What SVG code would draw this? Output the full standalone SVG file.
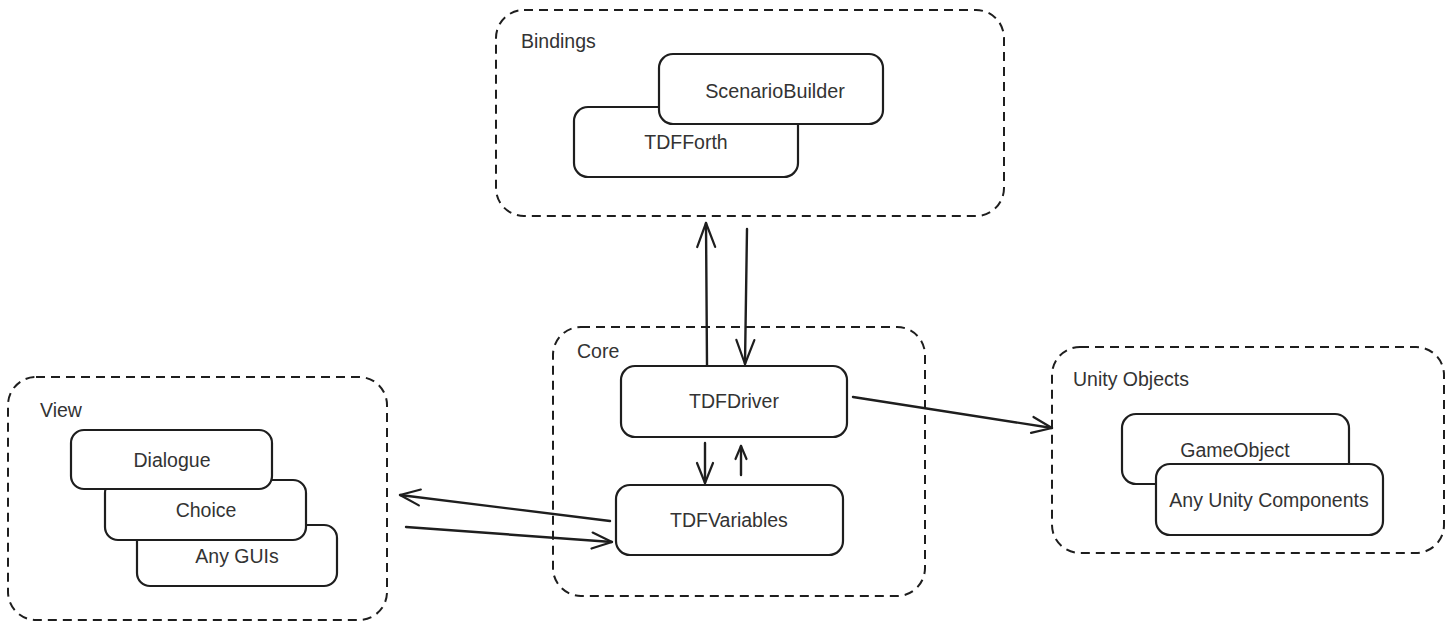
<svg xmlns="http://www.w3.org/2000/svg" width="1454" height="630" viewBox="0 0 1454 630">
<defs>
<style>
.container{fill:none;stroke:#1e1e1e;stroke-width:2;stroke-dasharray:9 6;}
.node rect{fill:#ffffff;stroke:#1e1e1e;stroke-width:2.2;}
text{font-family:"Liberation Sans",Arial,sans-serif;font-size:19.5px;fill:#333333;}
.label{text-anchor:start;}
.nlabel{text-anchor:middle;}
.conn{fill:none;stroke:#1e1e1e;stroke-width:2.4;stroke-linecap:round;}
</style>
<marker id="arrow" markerUnits="userSpaceOnUse" viewBox="-27 -12 30 24" markerWidth="30" markerHeight="24" refX="0" refY="0" orient="auto" overflow="visible">
<path d="M-24,-9 L0,0 L-24,9" fill="none" stroke="#1e1e1e" stroke-width="2.2" stroke-linecap="round" stroke-linejoin="round"/>
</marker>
<marker id="arrowMid" markerUnits="userSpaceOnUse" viewBox="-22 -10 24 20" markerWidth="24" markerHeight="20" refX="0" refY="0" orient="auto" overflow="visible">
<path d="M-20,-8 L0,0 L-20,8" fill="none" stroke="#1e1e1e" stroke-width="2.2" stroke-linecap="round" stroke-linejoin="round"/>
</marker>
<marker id="arrowSmall" markerUnits="userSpaceOnUse" viewBox="-16 -8 18 16" markerWidth="18" markerHeight="16" refX="0" refY="0" orient="auto" overflow="visible">
<path d="M-13,-5.5 L0,0 L-13,5.5" fill="none" stroke="#1e1e1e" stroke-width="2.2" stroke-linecap="round" stroke-linejoin="round"/>
</marker>
</defs>
<rect width="1454" height="630" fill="#ffffff"/>

<g id="bindings">
<rect class="container" x="496" y="10" width="508" height="206" rx="28"/>
<text class="label" x="521" y="48">Bindings</text>
</g>
<g id="core">
<rect class="container" x="553" y="327" width="372" height="269" rx="28"/>
<text class="label" x="577" y="358">Core</text>
</g>
<g id="view">
<rect class="container" x="8" y="377" width="379" height="243" rx="28"/>
<text class="label" x="40" y="417">View</text>
</g>
<g id="unity-objects">
<rect class="container" x="1052" y="347" width="392" height="206" rx="28"/>
<text class="label" x="1073" y="386">Unity Objects</text>
</g>

<g id="connectors">
<path class="conn" d="M707,365 L706,223" marker-end="url(#arrow)"/>
<path class="conn" d="M747,229 L745,364" marker-end="url(#arrow)"/>
<path class="conn" d="M705,443 L705,483" marker-end="url(#arrowMid)"/>
<path class="conn" d="M741,475 L741,446" marker-end="url(#arrowSmall)"/>
<path class="conn" d="M610,521 L400,495" marker-end="url(#arrowMid)"/>
<path class="conn" d="M406,527 L612,542" marker-end="url(#arrowMid)"/>
<path class="conn" d="M853,397 L1052,428" marker-end="url(#arrowMid)"/>
</g>

<g id="tdfforth" class="node">
<rect x="574" y="107" width="224" height="70" rx="14"/>
<text class="nlabel" x="686" y="149">TDFForth</text>
</g>
<g id="scenariobuilder" class="node">
<rect x="659" y="54" width="224" height="70" rx="14"/>
<text class="nlabel" x="775" y="98" style="font-size:19.8px">ScenarioBuilder</text>
</g>
<g id="tdfdriver" class="node">
<rect x="621" y="366" width="226" height="71" rx="14"/>
<text class="nlabel" x="734" y="408">TDFDriver</text>
</g>
<g id="tdfvariables" class="node">
<rect x="616" y="485" width="227" height="70" rx="14"/>
<text class="nlabel" x="729" y="527">TDFVariables</text>
</g>
<g id="anyguis" class="node">
<rect x="137" y="525" width="200" height="61" rx="13"/>
<text class="nlabel" x="237" y="563">Any GUIs</text>
</g>
<g id="choice" class="node">
<rect x="105" y="480" width="201" height="60" rx="13"/>
<text class="nlabel" x="206" y="517">Choice</text>
</g>
<g id="dialogue" class="node">
<rect x="71" y="430" width="201" height="59" rx="13"/>
<text class="nlabel" x="172" y="467">Dialogue</text>
</g>
<g id="gameobject" class="node">
<rect x="1122" y="414" width="227" height="70" rx="14"/>
<text class="nlabel" x="1235" y="457">GameObject</text>
</g>
<g id="anyunitycomponents" class="node">
<rect x="1156" y="464" width="227" height="71" rx="14"/>
<text class="nlabel" x="1269" y="507">Any Unity Components</text>
</g>
</svg>
